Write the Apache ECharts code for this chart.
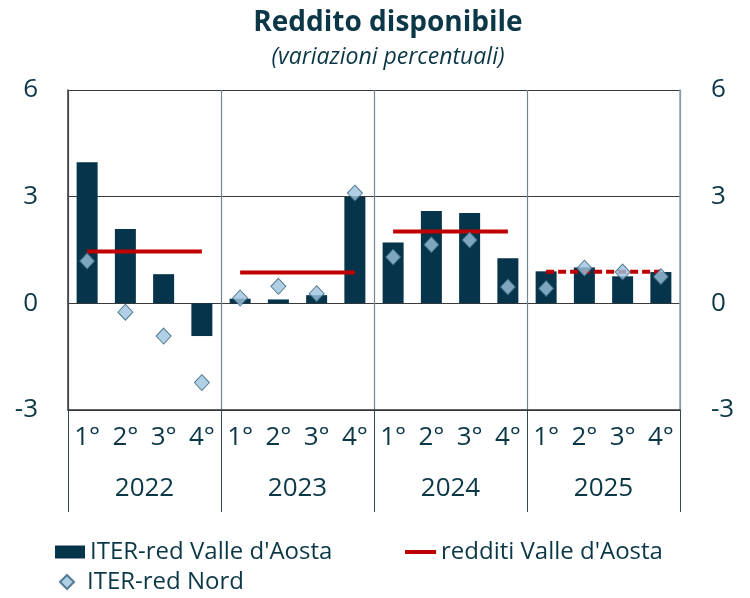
<!DOCTYPE html>
<html>
<head>
<meta charset="utf-8">
<title>Reddito disponibile</title>
<script src="https://cdn.jsdelivr.net/npm/echarts@6/dist/echarts.min.js"></script>
<style>
  html, body { margin: 0; padding: 0; background: #fff; }
  #chart { width: 750px; height: 598px; }
</style>
</head>
<body>
<div id="chart"></div>
<script>
// dati
var years = ['2022', '2023', '2024', '2025'];
var quarterLabels = ['1°', '2°', '3°', '4°'];
var iterVda = [3.97, 2.09, 0.82, -0.92, 0.13, 0.11, 0.23, 3.0, 1.71, 2.6, 2.54, 1.27, 0.9, 1.01, 0.76, 0.88];
var iterNord = [1.19, -0.25, -0.92, -2.23, 0.15, 0.48, 0.27, 3.1, 1.3, 1.65, 1.78, 0.46, 0.42, 0.99, 0.88, 0.75];
var redditiVda = [1.46, 0.87, 2.02, 0.89];
var yTicks = [-3, 0, 3, 6];

var txt = '#0b3747';
var font = '"Open Sans"';

// categorie uniche per trimestre
var cats = [];
years.forEach(function (y) {
  quarterLabels.forEach(function (q, i) { cats.push(y + '-' + (i + 1)); });
});

// una spezzata per anno (la media annua sta sui 4 trimestri)
var redSeries = years.map(function (y, k) {
  var d = cats.map(function (c, i) { return Math.floor(i / 4) === k ? redditiVda[k] : null; });
  return {
    name: "redditi Valle d'Aosta",
    type: 'line',
    data: d,
    symbol: 'none',
    z: 3,
    lineStyle: { color: '#c00000', width: 4, type: k === 3 ? [8, 4] : 'solid' },
    itemStyle: { color: '#c00000' }
  };
});

var chart = echarts.init(document.getElementById('chart'));
var option = {
  animation: false,
  title: {
    text: 'Reddito disponibile',
    subtext: '(variazioni percentuali)',
    left: 383,
    textAlign: 'center',
    top: 4,
    itemGap: 9,
    textStyle: { fontFamily: font, fontWeight: 'bold', fontSize: 28, color: txt },
    subtextStyle: { fontFamily: font, fontStyle: 'italic', fontSize: 23, color: txt }
  },
  legend: [
    {
      left: 55, top: 540, padding: 0, itemWidth: 30, itemHeight: 13,
      data: [{ name: 'ITER-red Valle d\'Aosta', icon: 'rect' }],
      textStyle: { fontFamily: font, fontSize: 24, color: txt }
    },
    {
      left: 405, top: 540, padding: 0, itemWidth: 31, itemHeight: 4,
      data: [{ name: "redditi Valle d'Aosta", icon: 'rect' }],
      textStyle: { fontFamily: font, fontSize: 24, color: txt }
    },
    {
      left: 59, top: 570, padding: 0, itemWidth: 14, itemHeight: 14,
      data: [{ name: 'ITER-red Nord', icon: 'diamond' }],
      textStyle: { fontFamily: font, fontSize: 24, color: txt, padding: [0, 0, 0, 8] }
    }
  ],
  grid: { left: 68, right: 70, top: 90, bottom: 188 },
  xAxis: [
    {
      type: 'category',
      data: cats,
      axisLine: { show: true, onZero: false, lineStyle: { color: '#333', width: 1.5 } },
      axisTick: { show: false },
      axisLabel: {
        interval: 0, margin: 15, fontFamily: font, fontSize: 26, color: txt,
        formatter: function (v, i) { return quarterLabels[i % 4]; }
      },
      splitLine: { show: false }
    },
    {
      type: 'category',
      data: years,
      position: 'bottom',
      axisLine: { show: false, onZero: false },
      axisTick: { show: true, interval: 0, length: 102, lineStyle: { color: '#2d4a57', width: 1 } },
      axisLabel: { interval: 0, margin: 66, fontFamily: font, fontSize: 26, color: txt },
      splitLine: { show: true, interval: 0, lineStyle: { color: '#6f8790', width: 1.2 } }
    }
  ],
  yAxis: [
    {
      type: 'value', min: yTicks[0], max: yTicks[yTicks.length - 1], interval: 3,
      position: 'left',
      axisLine: { show: true, lineStyle: { color: '#333', width: 1.5 } },
      axisTick: { show: false },
      axisLabel: { margin: 30, fontFamily: font, fontSize: 26, color: txt },
      splitLine: { show: true, lineStyle: { color: '#3a3a3a', width: 1.2 } }
    },
    {
      type: 'value', min: yTicks[0], max: yTicks[yTicks.length - 1], interval: 3,
      position: 'right',
      axisLine: { show: true, lineStyle: { color: '#8aa2ab', width: 1.5 } },
      axisTick: { show: false },
      axisLabel: { margin: 31, fontFamily: font, fontSize: 26, color: txt },
      splitLine: { show: false }
    }
  ],
  series: [
    {
      name: 'ITER-red Valle d\'Aosta',
      type: 'bar',
      data: iterVda,
      barWidth: 21,
      z: 2,
      itemStyle: { color: '#06344a' }
    }
  ].concat(redSeries).concat([
    {
      name: 'ITER-red Nord',
      type: 'scatter',
      data: iterNord,
      symbol: 'diamond',
      symbolSize: [15, 16],
      z: 4,
      itemStyle: { color: '#9cc3df', borderColor: '#35627b', borderWidth: 1 }
    }
  ])
};
chart.setOption(option);
</script>
</body>
</html>
